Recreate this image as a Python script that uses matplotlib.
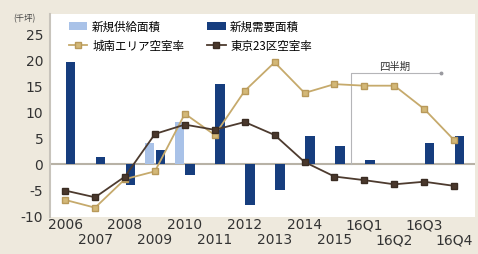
import numpy as np
import matplotlib
matplotlib.use("Agg")
import matplotlib.pyplot as plt

plt.rcParams['font.family'] = ['Noto Sans CJK JP', 'DejaVu Sans']

# categories (years, then 2016 quarters)
labels = ['2006', '2007', '2008', '2009', '2010', '2011', '2012', '2013',
          '2014', '2015', '16Q1', '16Q2', '16Q3', '16Q4']

# new supply / new demand (thousand tsubo)
supply = [0, 0, 0, 4.0, 8.0, 0, 0, 0, 0, 0, 0, 0, 0, 0]
demand = [19.6, 1.3, -4.1, 2.6, -2.2, 15.3, -8.0, -5.1, 5.3, 3.4, 0.6, 0, 4.0, 5.4]

# vacancy rate lines (drawn on the same scale as in the original)
jonan = [-7.0, -8.5, -3.0, -1.5, 9.6, 5.5, 14.0, 19.5, 13.6, 15.3, 15.0, 15.0, 10.5, 4.5]
tokyo23 = [-5.2, -6.5, -2.5, 5.7, 7.5, 6.5, 8.0, 5.5, 0.3, -2.5, -3.2, -4.0, -3.5, -4.3]

x = np.arange(len(labels))

fig = plt.figure(figsize=(4.78, 2.55), dpi=100)
fig.patch.set_facecolor('#eee9dd')
ax = fig.add_axes([0.105, 0.145, 0.889, 0.796])
ax.set_facecolor('white')

w = 0.32
b1 = ax.bar(x - 0.18, supply, w, color='#a9c2e8', label='新規供給面積', zorder=2)
b2 = ax.bar(x + 0.18, demand, w, color='#163d7e', label='新規需要面積', zorder=2)

ax.axhline(0, color='#b8b2a6', lw=1.5, zorder=1)

l1, = ax.plot(x, jonan, color='#c6aa6c', lw=1.3, marker='s', ms=4.5,
              mfc='#d3b877', mec='#b8995a', label='城南エリア空室率', zorder=3)
l2, = ax.plot(x, tokyo23, color='#4d3b2f', lw=1.3, marker='s', ms=4.5,
              mfc='#4a382c', mec='#3a2c22', label='東京23区空室率', zorder=3)

# quarterly bracket
ax.plot([9.55, 9.55, 12.57], [0, 17.4, 17.4], color='#b5b5b8', lw=0.8, zorder=1)
ax.plot([12.57], [17.4], marker='o', ms=1.8, color='#9a9aa0', zorder=1)
ax.text(11.0, 18.9, '四半期', fontsize=7.5, color='#333333', ha='center', va='center')

ax.set_xlim(-0.5, 13.7)
ax.set_ylim(-10.3, 28.8)
ax.set_yticks([-10, -5, 0, 5, 10, 15, 20, 25])
ax.set_yticklabels(['-10', '-5', '0', '5', '10', '15', '20', '25'],
                   family='DejaVu Sans', fontsize=10, color='#333333')

# staggered x labels: even ones on the first row, odd ones below
ax.set_xticks(x[::2])
ax.set_xticklabels(labels[::2], family='DejaVu Sans', fontsize=10, color='#333333')
ax.set_xticks(x[1::2], minor=True)
ax.set_xticklabels(labels[1::2], minor=True, family='DejaVu Sans', fontsize=10, color='#333333')
ax.tick_params(axis='both', which='both', length=0)
ax.tick_params(axis='x', which='major', pad=0)
ax.tick_params(axis='x', which='minor', pad=11)
ax.tick_params(axis='y', pad=5)

for s in ['top', 'bottom', 'right']:
    ax.spines[s].set_visible(False)
ax.spines['left'].set_color('#c8c4bc')
ax.spines['left'].set_linewidth(1.5)

fig.text(0.052, 0.925, '(千坪)', fontsize=6, color='#444444', ha='center', va='center')

ax.legend([b1, l1, b2, l2], ['新規供給面積', '城南エリア空室率', '新規需要面積', '東京23区空室率'],
          loc='upper left', bbox_to_anchor=(0.125, 0.955), bbox_transform=fig.transFigure,
          ncol=2, frameon=False, fontsize=8.3, handlelength=1.6, handletextpad=0.4,
          columnspacing=2.0, labelspacing=0.55, borderpad=0.3)

fig.savefig('out.png', dpi=100, facecolor=fig.get_facecolor())
